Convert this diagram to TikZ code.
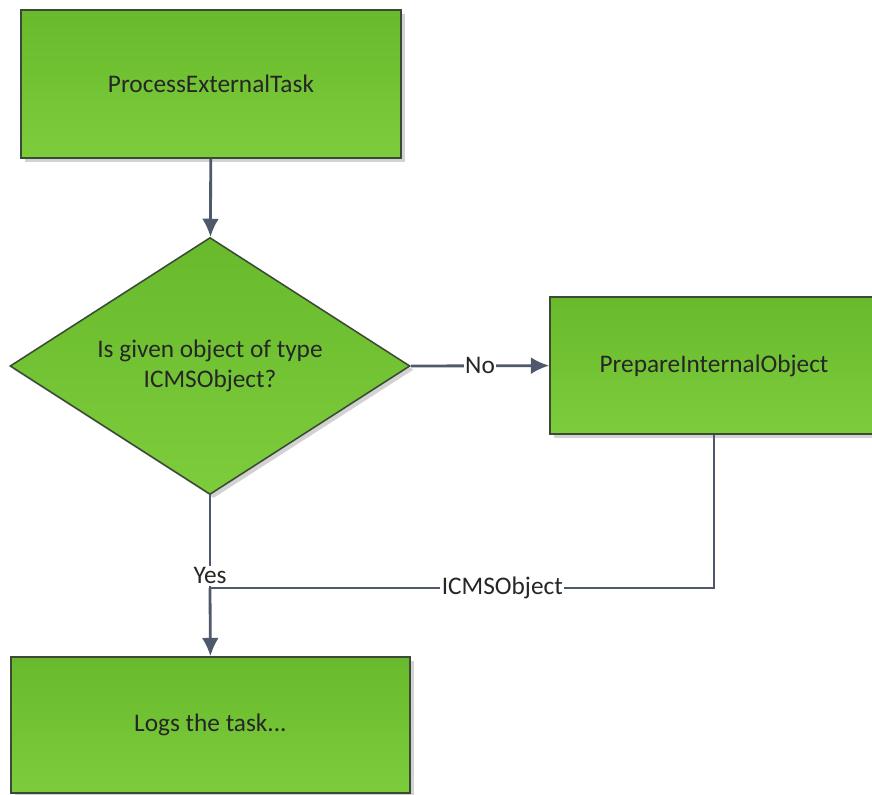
\documentclass[tikz,border=0pt]{standalone}
\usepackage{fontspec}
\setmainfont{Carlito}
\usetikzlibrary{shapes.geometric,arrows.meta,shadows}

\definecolor{boxtop}{HTML}{68BA2C}
\definecolor{boxbot}{HTML}{7DCC3C}
\definecolor{boxline}{HTML}{3A4A35}
\definecolor{flowline}{HTML}{4E596B}

\tikzset{
  stepbox/.style={draw=boxline,line width=1.1pt,top color=boxtop,bottom color=boxbot,
    drop shadow={shadow xshift=2.6pt,shadow yshift=-2.6pt,fill=black!35},
    text=black!85,font=\fontsize{18}{21.5}\selectfont,align=center,inner sep=0pt},
  choice/.style={stepbox,shape=diamond,aspect=1.556},
  flow/.style={draw=flowline,line width=2pt,-{Latex[length=13pt,width=12pt]}},
  link/.style={draw=flowline,line width=2pt},
  lbl/.style={fill=white,inner sep=1pt,text=black!85,font=\fontsize{18}{21.5}\selectfont}
}

\begin{document}
\begin{tikzpicture}
  \useasboundingbox (0,0) rectangle (21.8,-19.85);

  \node[stepbox,minimum width=9.5cm,minimum height=3.7cm] (task) at (5.275,-2.1) {ProcessExternalTask};
  \node[choice,minimum width=10cm,minimum height=6.425cm] (dec) at (5.25,-9.15)
    {Is given object of type\\ICMSObject?};
  \node[stepbox,minimum width=8.2cm,minimum height=3.425cm] (prep) at (17.85,-9.14) {PrepareInternalObject};
  \node[stepbox,minimum width=9.975cm,minimum height=3.4cm] (logs) at (5.26,-18.125) {Logs the task...};
  \coordinate (j) at (5.25,-14.7);

  \draw[flow] (task) -- (dec);
  \draw[flow] (dec.east) -- node[lbl] {No} (prep.west);
  \draw[link] (dec.south) -- node[lbl,pos=0.87] {Yes} (j);
  \draw[link] (prep.south) |- node[lbl,pos=0.71] {ICMSObject} (j);
  \draw[flow] (j) -- (logs.north);
\end{tikzpicture}
\end{document}
